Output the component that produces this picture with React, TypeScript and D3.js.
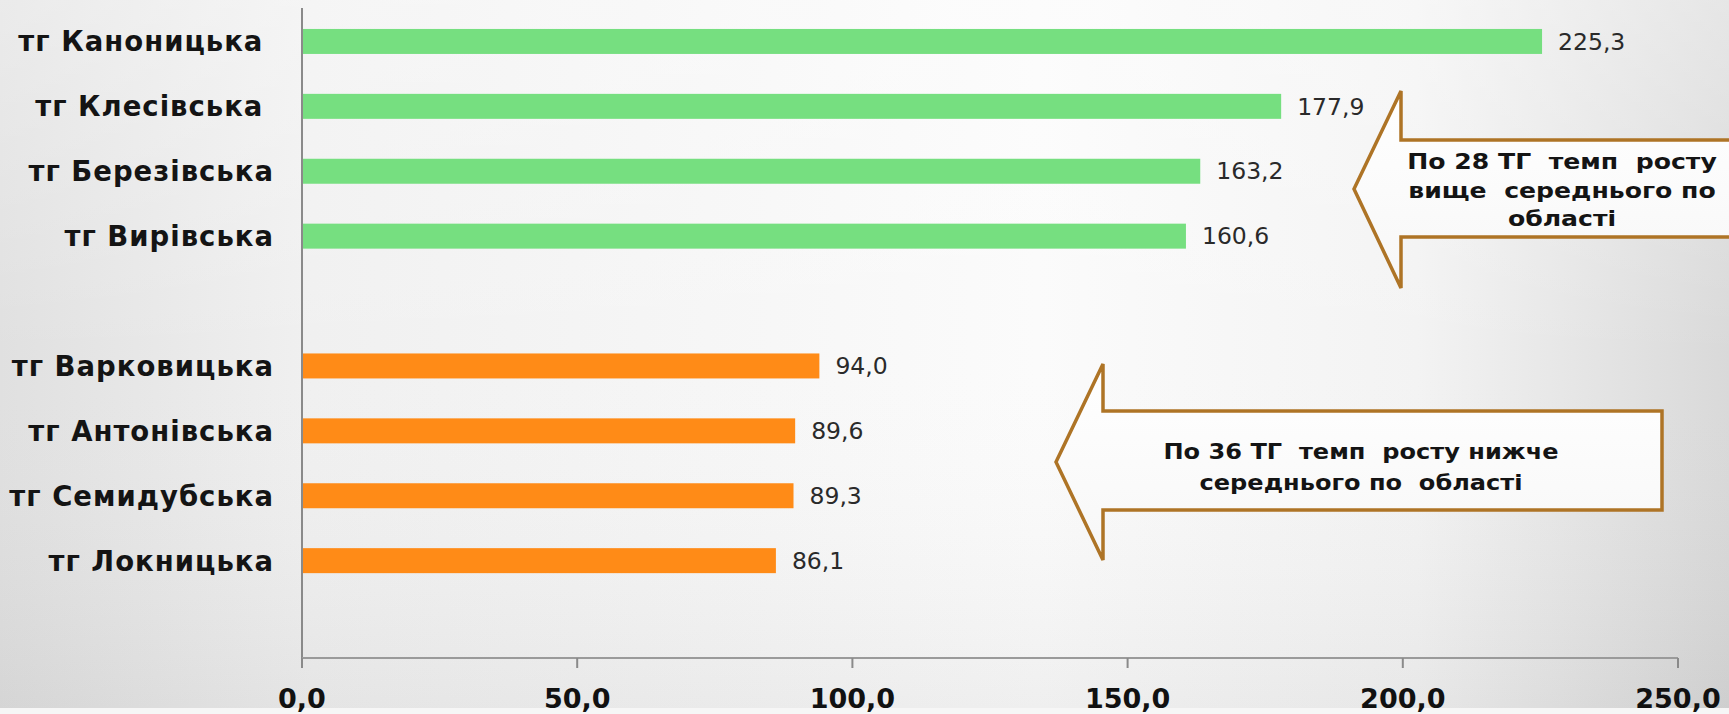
import React from "react";
import * as d3 from "d3";

const categories = [
  "тг Каноницька ",
  "тг Клесівська ",
  "тг Березівська",
  "тг Вирівська",
  "тг Варковицька",
  "тг Антонівська",
  "тг Семидубська",
  "тг Локницька",
];
const values = [225.3, 177.9, 163.2, 160.6, 94.0, 89.6, 89.3, 86.1];
const groups = ["above", "above", "above", "above", "below", "below", "below", "below"];
const slots = [...categories.slice(0, 4), "__gap1", ...categories.slice(4), "__gap2"];
const xTicks = [0, 50, 100, 150, 200, 250];
const topArrowLines = ["По 28 ТГ  темп  росту", "вище  середнього по", "області"];
const bottomArrowLines = ["По 36 ТГ  темп  росту нижче", "середнього по  області"];

const W = 1729;
const H = 714;
const AXIS_X = 302;
const AXIS_RIGHT = 1678;
const AXIS_TOP = 8;
const AXIS_Y = 658;

const colorOf: Record<string, string> = { above: "#76DF80", below: "#FF8B17" };
const fmt = (v: number) => d3.format(".1f")(v).replace(".", ",");

export default function App() {
  const x = d3.scaleLinear().domain([0, 250]).range([AXIS_X, AXIS_RIGHT]);
  const y = d3
    .scaleBand<string>()
    .domain(slots)
    .range([AXIS_TOP + 1, AXIS_Y])
    .paddingInner(0.615)
    .paddingOuter(0.3075);

  const data = categories.map((c, i) => ({ c, v: values[i], g: groups[i] }));
  const labelFont = "'DejaVu Sans', Verdana, sans-serif";

  const topArrow = "M1354,189 L1401,91 L1401,140 L1745,140 L1745,237 L1401,237 L1401,288 Z";
  const bottomArrow = "M1056,462 L1103,364 L1103,411 L1662,411 L1662,510 L1103,510 L1103,560 Z";

  return (
    <svg
      width={W}
      height={H}
      style={{ position: "fixed", left: 0, top: 0, display: "block" }}
      xmlns="http://www.w3.org/2000/svg"
    >
      <defs>
        <linearGradient id="bgH" x1="0" y1="0" x2="1" y2="0">
          <stop offset="0" stopColor="#e0e0e0" />
          <stop offset="0.18" stopColor="#f0f0f0" />
          <stop offset="0.6" stopColor="#fbfbfb" />
          <stop offset="0.82" stopColor="#f3f3f3" />
          <stop offset="1" stopColor="#d9d9d9" />
        </linearGradient>
        <linearGradient id="bgV" x1="0" y1="0" x2="0" y2="1">
          <stop offset="0" stopColor="#ffffff" stopOpacity="0.35" />
          <stop offset="0.5" stopColor="#ffffff" stopOpacity="0" />
          <stop offset="1" stopColor="#000000" stopOpacity="0.05" />
        </linearGradient>
        <linearGradient id="arrowFill" x1="0" y1="0" x2="0" y2="1">
          <stop offset="0" stopColor="#ffffff" />
          <stop offset="1" stopColor="#f7f7f7" />
        </linearGradient>
      </defs>
      <rect x={0} y={0} width={W} height={H} fill="url(#bgH)" />
      <rect x={0} y={0} width={W} height={H} fill="url(#bgV)" />
      <rect x={0} y={708} width={W} height={H - 708} fill="#f6f6f6" />

      {/* bars */}
      {data.map((d) => (
        <rect
          key={d.c}
          x={x(0)}
          y={y(d.c)!}
          width={x(d.v) - x(0)}
          height={y.bandwidth()}
          fill={colorOf[d.g]}
        />
      ))}

      {/* value labels */}
      {data.map((d) => (
        <text
          key={"v" + d.c}
          x={x(d.v) + 16}
          y={y(d.c)! + y.bandwidth() / 2}
          dy="0.35em"
          fontFamily={labelFont}
          fontSize={23.5}
          fill="#2a2a2a"
        >
          {fmt(d.v)}
        </text>
      ))}

      {/* category labels */}
      {data.map((d) => (
        <text
          key={"c" + d.c}
          x={274}
          y={y(d.c)! + y.bandwidth() / 2}
          dy="0.36em"
          textAnchor="end"
          fontFamily={labelFont}
          fontWeight="bold"
          fontSize={27.5}
          letterSpacing={1}
          fill="#141414"
          style={{ whiteSpace: "pre" }}
        >
          {d.c}
        </text>
      ))}

      {/* axes */}
      <line x1={AXIS_X} x2={AXIS_X} y1={AXIS_TOP} y2={AXIS_Y} stroke="#8a8a8a" strokeWidth={2} />
      <line x1={AXIS_X} x2={AXIS_RIGHT} y1={AXIS_Y} y2={AXIS_Y} stroke="#9a9a9a" strokeWidth={2} />
      {xTicks.map((t) => (
        <g key={"t" + t}>
          <line x1={x(t)} x2={x(t)} y1={AXIS_Y} y2={AXIS_Y + 10} stroke="#8a8a8a" strokeWidth={2} />
          <text
            x={x(t)}
            y={708}
            textAnchor="middle"
            fontFamily={labelFont}
            fontWeight="bold"
            fontSize={27}
            fill="#111"
          >
            {fmt(t)}
          </text>
        </g>
      ))}

      {/* arrows */}
      <path d={topArrow} fill="url(#arrowFill)" stroke="#AE7426" strokeWidth={3.5} strokeLinejoin="miter" />
      <path d={bottomArrow} fill="url(#arrowFill)" stroke="#AE7426" strokeWidth={3.5} strokeLinejoin="miter" />

      {topArrowLines.map((line, i) => (
        <g key={"ta" + i} transform={`translate(1562,${169 + i * 28.5}) scale(1.17,1)`}>
          <text
            textAnchor="middle"
            fontFamily={labelFont}
            fontWeight="bold"
            fontSize={21.5}
            fill="#141414"
            style={{ whiteSpace: "pre" }}
          >
            {line}
          </text>
        </g>
      ))}
      {bottomArrowLines.map((line, i) => (
        <g key={"ba" + i} transform={`translate(1361,${459 + i * 31}) scale(1.12,1)`}>
          <text
            textAnchor="middle"
            fontFamily={labelFont}
            fontWeight="bold"
            fontSize={21.5}
            fill="#141414"
            style={{ whiteSpace: "pre" }}
          >
            {line}
          </text>
        </g>
      ))}
    </svg>
  );
}
